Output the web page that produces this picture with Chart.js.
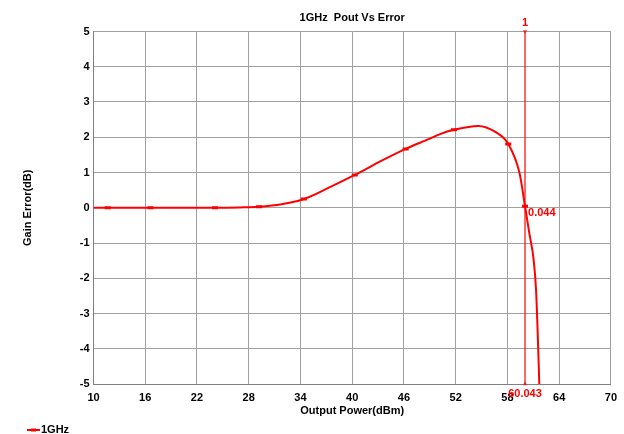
<!DOCTYPE html>
<html>
<head>
<meta charset="utf-8">
<script src="https://cdn.jsdelivr.net/npm/chart.js@4/dist/chart.umd.min.js"></script>
<style>
    html, body { margin: 0; padding: 0; background: #fff; }
</style>
</head>
<body>
<canvas id="myChart" width="624" height="434"></canvas>
<script>
// data
const chartTitle = '1GHz  Pout Vs Error'
const seriesName = '1GHz'
const pout = [10, 11.65, 16.6, 24.1, 27, 29.2, 31.8, 34.4, 37.3, 40.3, 43.3, 46.2, 49, 50.2, 51.8, 54.6, 56.6, 58.1, 59.4, 60.043, 60.54, 61.04, 61.32, 61.5, 61.7]
const gainError = [0, 0, 0, 0, 0.01, 0.03, 0.1, 0.25, 0.57, 0.93, 1.32, 1.67, 1.96, 2.09, 2.21, 2.32, 2.15, 1.81, 0.99, 0.044, -0.72, -1.47, -2.32, -3.46, -5]
const measuredPout = [11.65, 16.6, 24.1, 29.2, 34.4, 40.3, 46.2, 51.8, 58.1, 60.043]
const xTicks = [10, 16, 22, 28, 34, 40, 46, 52, 58, 64, 70]
const yTicks = [-5, -4, -3, -2, -1, 0, 1, 2, 3, 4, 5]
const markerName = '1'
const markerX = 60.043
const markerY = 0.044

const RED = '#ff0000'
const FONT = '"Liberation Sans", Arial, sans-serif'

Chart.defaults.font.family = FONT
Chart.defaults.font.size = 11
Chart.defaults.font.weight = 'bold'
Chart.defaults.color = '#000'

const overlay = {
    id: 'overlay',
    afterDraw(chart) {
        const { ctx, chartArea, scales: { x, y } } = chart
        ctx.save()
        ctx.font = 'bold 11px ' + FONT
        ctx.textBaseline = 'middle'

        // title over the plot area
        ctx.fillStyle = '#000'
        ctx.textAlign = 'center'
        ctx.fillText(chartTitle, (chartArea.left + chartArea.right) / 2, 17.5)

        // marker readouts
        const mx = x.getPixelForValue(markerX)
        ctx.fillStyle = RED
        ctx.fillText(markerName, mx, chartArea.top - 8.5)
        ctx.fillText(markerX.toFixed(3), mx, chartArea.bottom + 9.5)
        ctx.textAlign = 'left'
        ctx.fillText(markerY.toFixed(3), mx + 3, y.getPixelForValue(markerY) + 6.5)

        // legend, bottom left
        ctx.strokeStyle = RED
        ctx.lineWidth = 2
        ctx.beginPath()
        ctx.moveTo(27, 430)
        ctx.lineTo(40, 430)
        ctx.stroke()
        ctx.fillRect(31, 428.5, 5, 3)
        ctx.fillStyle = '#000'
        ctx.fillText(seriesName, 41, 430)
        ctx.restore()
    }
}

const ctx = document.getElementById('myChart')
new Chart(ctx, {
    type: 'line',
    data: {
        datasets: [{
            label: seriesName,
            data: pout.map((p, i) => ({ x: p, y: gainError[i] })),
            borderColor: RED,
            backgroundColor: RED,
            borderWidth: 2,
            cubicInterpolationMode: 'monotone',
            pointStyle: 'line',
            pointRadius: c => measuredPout.includes(pout[c.dataIndex]) ? 3 : 0,
            pointBorderWidth: 3,
            pointBorderColor: RED,
            order: 1
        }, {
            label: 'marker',
            data: [{ x: markerX, y: yTicks[yTicks.length - 1] }, { x: markerX, y: yTicks[0] }],
            borderColor: 'rgba(255,0,0,0.6)',
            backgroundColor: 'rgba(255,0,0,0.75)',
            borderWidth: 2,
            pointStyle: 'triangle',
            pointRadius: 2.5,
            pointBorderWidth: 0,
            pointRotation: [180, 0],
            clip: false,
            order: 2
        }]
    },
    options: {
        responsive: false,
        animation: false,
        devicePixelRatio: 1,
        layout: { padding: { top: 31.5, right: 13, bottom: 15.5, left: 0 } },
        plugins: {
            legend: { display: false },
            title: { display: false },
            tooltip: { enabled: false }
        },
        scales: {
            x: {
                type: 'linear',
                min: xTicks[0],
                max: xTicks[xTicks.length - 1],
                afterBuildTicks: s => { s.ticks = xTicks.map(v => ({ value: v })) },
                afterFit: s => { s.height = 34.5 },
                grid: { color: '#a0a0a0', lineWidth: 1, drawTicks: false },
                border: { color: '#808080', width: 1 },
                ticks: { padding: 7, maxRotation: 0, autoSkip: false, color: '#000' },
                title: { display: true, text: 'Output Power(dBm)', padding: { top: 0, bottom: 1 }, color: '#000' }
            },
            y: {
                type: 'linear',
                min: yTicks[0],
                max: yTicks[yTicks.length - 1],
                afterBuildTicks: s => { s.ticks = yTicks.map(v => ({ value: v })) },
                afterFit: s => { s.width = 93.5 },
                grid: { color: '#a0a0a0', lineWidth: 1, drawTicks: false },
                border: { color: '#808080', width: 1 },
                ticks: { padding: 4, autoSkip: false, color: '#000' },
                title: { display: true, text: 'Gain Error(dB)', padding: { top: 21, bottom: 0 }, color: '#000' }
            }
        }
    },
    plugins: [overlay]
})
</script>
</body>
</html>
